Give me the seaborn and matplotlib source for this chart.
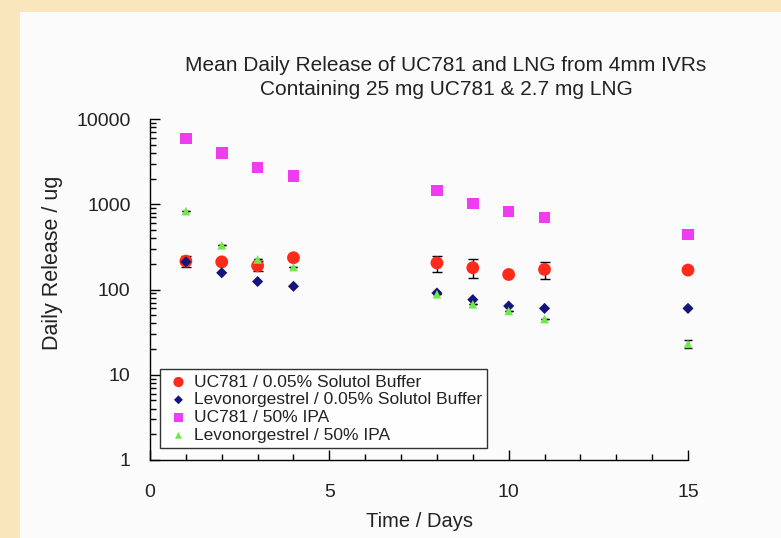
import matplotlib
matplotlib.use("Agg")
import matplotlib.pyplot as plt
import matplotlib.ticker as mticker
from matplotlib.patches import Rectangle
import seaborn as sns
import pandas as pd
import numpy as np

days = [1, 2, 3, 4, 8, 9, 10, 11, 15]
series_names = [
    "UC781 / 0.05% Solutol Buffer",
    "Levonorgestrel / 0.05% Solutol Buffer",
    "UC781 / 50% IPA",
    "Levonorgestrel / 50% IPA",
]
uc781_solutol = [215, 211, 190, 236, 205, 180, 150, 172, 169]
uc781_solutol_err = [32, 0, 25, 0, 45, 45, 0, 40, 0]
lng_solutol = [211, 157, 124, 109, 91, 76, 64, 60, 60]
uc781_ipa = [5900, 4000, 2700, 2150, 1450, 1020, 820, 700, 440]
lng_ipa = [830, 330, 225, 183, 88, 67, 56, 45, 23]
lng_ipa_err = [0, 0, 0, 0, 0, 0, 0, 0, 2.5]

colors = ["#ff2a1a", "#14147a", "#f03cf0", "#6ee84a"]
markers = ["o", "D", "s", "^"]
sizes = [85, 32, 70, 38]

sns.set_theme(style="white")
plt.rcParams["font.family"] = ["Liberation Sans", "DejaVu Sans"]

df = pd.DataFrame({
    "Day": days * 4,
    "Release": uc781_solutol + lng_solutol + uc781_ipa + lng_ipa,
    "Series": np.repeat(series_names, len(days)),
})

fig = plt.figure(figsize=(7.81, 5.38), dpi=100, facecolor="#f9e6bd")
fig.patches.append(Rectangle((20 / 781, 0), 1, 1 - 12 / 538, transform=fig.transFigure,
                             facecolor="#fbfbfb", edgecolor="none", zorder=-10))
ax = fig.add_axes([150 / 781, 78 / 538, 538 / 781, 341 / 538])
ax.set_facecolor("none")

# error bars first so markers sit on top
ax.errorbar(days, uc781_solutol, yerr=uc781_solutol_err, fmt="none", ecolor="black",
            elinewidth=1, capsize=3.5, capthick=1, zorder=2, clip_on=False)
ax.errorbar(days, lng_ipa, yerr=lng_ipa_err, fmt="none", ecolor="black",
            elinewidth=1, capsize=3, capthick=1, zorder=2, clip_on=False)

for name, c, m, s in zip(series_names, colors, markers, sizes):
    sub = df[df["Series"] == name]
    sns.scatterplot(data=sub, x="Day", y="Release", color=c, marker=m, s=s,
                    edgecolor="none", label=name, ax=ax, zorder=3, clip_on=False)

ax.set_yscale("log")
ax.set_ylim(1, 10000)
ax.set_xlim(0, 15)
ax.xaxis.set_major_locator(mticker.MultipleLocator(5))
ax.xaxis.set_minor_locator(mticker.MultipleLocator(1))
ax.yaxis.set_major_formatter(mticker.FuncFormatter(lambda v, p: f"{int(v)}"))
ax.tick_params(axis="both", which="both", direction="in", color="black",
               left=True, bottom=True, labelsize=14, labelcolor="#222222")
ax.tick_params(axis="both", which="major", length=7, width=1)
ax.tick_params(axis="both", which="minor", length=4, width=1)
ax.tick_params(axis="x", which="major", pad=17)
ax.tick_params(axis="y", which="major", pad=14)
for sp in ["top", "right"]:
    ax.spines[sp].set_visible(False)
for sp in ["left", "bottom"]:
    ax.spines[sp].set_color("black")
    ax.spines[sp].set_linewidth(1)

ax.set_xlabel("Time / Days", fontsize=14.5, color="#222222", labelpad=8)
ax.set_ylabel("Daily Release / ug", fontsize=15.5, color="#222222")
ax.yaxis.set_label_coords(-0.162, 0.578)
ax.set_title("Mean Daily Release of UC781 and LNG from 4mm IVRs\nContaining 25 mg UC781 & 2.7 mg LNG",
             fontsize=15, color="#222222", pad=17, linespacing=1.35, x=0.55)

leg = ax.legend(loc="lower left", bbox_to_anchor=(0.019, 0.035), borderaxespad=0,
                frameon=True, fancybox=False, edgecolor="black", fontsize=12.5,
                handletextpad=0.15, borderpad=0.3, labelspacing=0.15, markerscale=0.8,
                handlelength=1.5)
leg.get_frame().set_linewidth(1)
leg.get_frame().set_facecolor("white")
for t in leg.get_texts():
    t.set_color("#222222")

plt.savefig("out.png", dpi=100, facecolor=fig.get_facecolor())
